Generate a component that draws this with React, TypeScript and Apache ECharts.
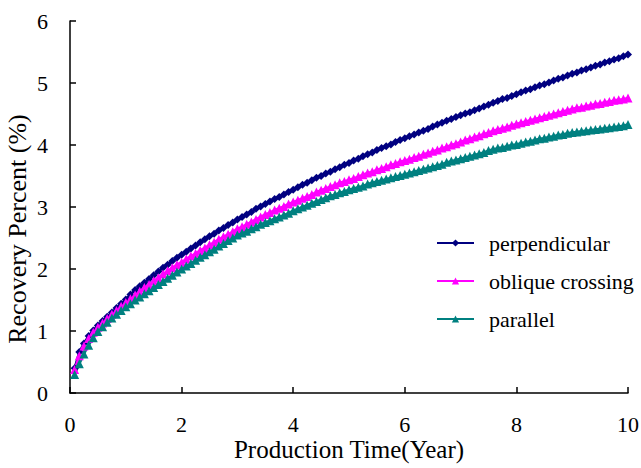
import React, { useEffect, useRef } from "react";
import * as echarts from "echarts";

// sampling step: one value per month of production
const STEP_YEARS = 1 / 12;

const seriesNames = ["perpendicular", "oblique crossing", "parallel"];

const perpendicular = [
  0.40, 0.66, 0.80, 0.92, 1.01, 1.09, 1.16, 1.23, 1.30, 1.37, 1.44, 1.51,
  1.59, 1.66, 1.72, 1.78, 1.84, 1.90, 1.96, 2.02, 2.07, 2.13, 2.18, 2.23,
  2.28, 2.33, 2.38, 2.43, 2.48, 2.53, 2.57, 2.62, 2.66, 2.71, 2.75, 2.80,
  2.84, 2.88, 2.92, 2.97, 3.01, 3.05, 3.09, 3.13, 3.16, 3.20, 3.24, 3.28,
  3.32, 3.36, 3.39, 3.43, 3.47, 3.50, 3.54, 3.57, 3.61, 3.64, 3.68, 3.71,
  3.75, 3.78, 3.82, 3.85, 3.88, 3.92, 3.95, 3.98, 4.01, 4.05, 4.08, 4.11,
  4.14, 4.17, 4.20, 4.23, 4.26, 4.30, 4.33, 4.36, 4.39, 4.42, 4.45, 4.48,
  4.51, 4.53, 4.56, 4.59, 4.62, 4.65, 4.68, 4.71, 4.74, 4.76, 4.79, 4.82,
  4.85, 4.88, 4.90, 4.93, 4.96, 4.98, 5.01, 5.04, 5.07, 5.09, 5.12, 5.15,
  5.17, 5.20, 5.22, 5.25, 5.28, 5.30, 5.33, 5.35, 5.38, 5.40, 5.43, 5.46,
];

const obliqueCrossing = [
  0.38, 0.60, 0.76, 0.88, 0.98, 1.06, 1.13, 1.20, 1.27, 1.33, 1.40, 1.46,
  1.52, 1.58, 1.64, 1.70, 1.75, 1.81, 1.86, 1.92, 1.97, 2.02, 2.07, 2.11,
  2.16, 2.21, 2.25, 2.30, 2.34, 2.39, 2.43, 2.48, 2.52, 2.56, 2.60, 2.65,
  2.68, 2.72, 2.76, 2.80, 2.84, 2.88, 2.91, 2.95, 2.98, 3.01, 3.05, 3.08,
  3.11, 3.14, 3.17, 3.20, 3.24, 3.27, 3.30, 3.33, 3.36, 3.39, 3.41, 3.44,
  3.46, 3.49, 3.52, 3.55, 3.57, 3.60, 3.62, 3.65, 3.68, 3.70, 3.73, 3.75,
  3.77, 3.80, 3.82, 3.85, 3.87, 3.90, 3.92, 3.95, 3.97, 4.00, 4.02, 4.05,
  4.08, 4.10, 4.13, 4.15, 4.18, 4.20, 4.23, 4.25, 4.27, 4.29, 4.32, 4.34,
  4.36, 4.38, 4.40, 4.42, 4.44, 4.46, 4.48, 4.50, 4.52, 4.54, 4.56, 4.58,
  4.60, 4.61, 4.63, 4.64, 4.66, 4.67, 4.69, 4.70, 4.72, 4.73, 4.74, 4.76,
];

const parallel = [
  0.30, 0.47, 0.63, 0.77, 0.89, 0.99, 1.07, 1.14, 1.21, 1.27, 1.33, 1.39,
  1.44, 1.50, 1.55, 1.60, 1.65, 1.70, 1.75, 1.80, 1.85, 1.90, 1.95, 2.00,
  2.05, 2.09, 2.14, 2.19, 2.23, 2.28, 2.32, 2.37, 2.41, 2.46, 2.50, 2.55,
  2.58, 2.61, 2.65, 2.68, 2.72, 2.75, 2.78, 2.81, 2.84, 2.87, 2.90, 2.94,
  2.97, 3.00, 3.03, 3.06, 3.09, 3.12, 3.15, 3.18, 3.20, 3.23, 3.25, 3.28,
  3.30, 3.32, 3.34, 3.37, 3.39, 3.41, 3.43, 3.45, 3.47, 3.49, 3.51, 3.53,
  3.55, 3.57, 3.59, 3.61, 3.63, 3.65, 3.67, 3.69, 3.72, 3.74, 3.76, 3.78,
  3.80, 3.82, 3.84, 3.86, 3.88, 3.91, 3.93, 3.95, 3.96, 3.98, 4.00, 4.01,
  4.03, 4.05, 4.06, 4.08, 4.10, 4.11, 4.13, 4.14, 4.16, 4.17, 4.19, 4.20,
  4.21, 4.22, 4.23, 4.24, 4.25, 4.26, 4.27, 4.28, 4.29, 4.30, 4.31, 4.33,
];

const FONT = "'Liberation Serif', 'Times New Roman', serif";

function toPairs(values: number[]) {
  return values.map((v, i) => [(i + 1) * STEP_YEARS, v]);
}

export default function App() {
  const ref = useRef<HTMLDivElement>(null);

  useEffect(() => {
    if (!ref.current) return;
    const chart = echarts.init(ref.current, null, { renderer: "svg" });
    const axisCommon = {
      axisLine: { show: true, lineStyle: { color: "#000", width: 1.5 } },
      axisTick: { show: true, inside: true, length: 6, lineStyle: { color: "#000", width: 1.5 } },
      splitLine: { show: false },
      nameMoveOverlap: false,
    };
    const mk = (name: string, data: number[], color: string, symbol: string, size: number) => ({
      name,
      type: "line",
      data: toPairs(data),
      symbol,
      symbolSize: size,
      showSymbol: true,
      showAllSymbol: true,
      lineStyle: { color, width: 2.5 },
      itemStyle: { color, borderWidth: 0 },
      emphasis: { disabled: true },
    });
    chart.setOption({
      animation: false,
      backgroundColor: "#fff",
      grid: {
        left: 70,
        right: 13,
        top: 21,
        bottom: 75,
        containLabel: false,
        outerBoundsMode: "none",
      },
      legend: {
        orient: "vertical",
        left: 436,
        top: 232,
        padding: 0,
        itemWidth: 37,
        itemHeight: 9,
        itemGap: 16,
        data: seriesNames,
        textStyle: { fontFamily: FONT, fontSize: 22, color: "#000", padding: [0, 0, 0, 10] },
      },
      xAxis: {
        type: "value",
        min: 0,
        max: 10,
        interval: 2,
        name: "Production Time(Year)",
        nameLocation: "middle",
        nameGap: 44,
        nameTextStyle: { fontFamily: FONT, fontSize: 25, color: "#000" },
        ...axisCommon,
        axisLabel: { fontFamily: FONT, fontSize: 22, color: "#000", margin: 20 },
      },
      yAxis: {
        type: "value",
        min: 0,
        max: 6,
        interval: 1,
        name: "Recovery Percent (%)",
        nameLocation: "middle",
        nameGap: 40,
        nameTextStyle: { fontFamily: FONT, fontSize: 26, color: "#000", padding: [0, 44, 0, 0] },
        ...axisCommon,
        axisLabel: { fontFamily: FONT, fontSize: 22, color: "#000", margin: 22 },
      },
      series: [
        mk(seriesNames[0], perpendicular, "#000080", "diamond", 8),
        mk(seriesNames[1], obliqueCrossing, "#FF00FF", "triangle", 9),
        mk(seriesNames[2], parallel, "#008080", "triangle", 9),
      ],
    });
    return () => chart.dispose();
  }, []);

  return (
    <div
      ref={ref}
      style={{ position: "fixed", left: 0, top: 0, width: 641, height: 468 }}
    />
  );
}
